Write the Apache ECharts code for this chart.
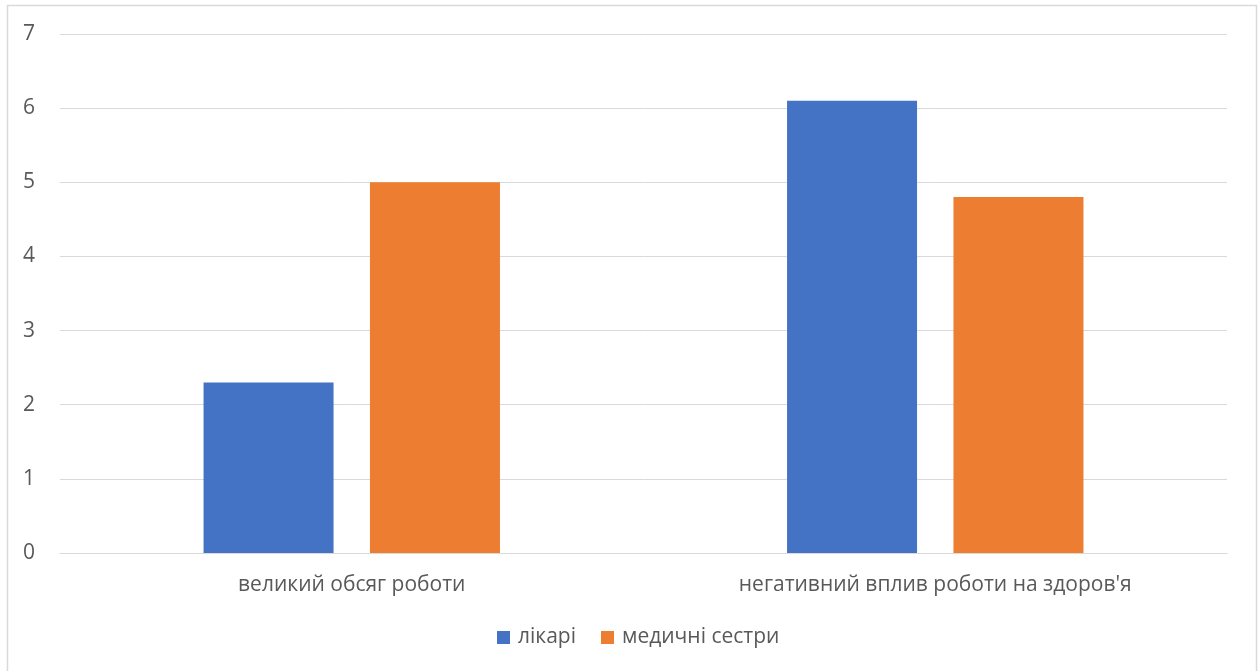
<!DOCTYPE html>
<html>
<head>
<meta charset="utf-8">
<style>
  html, body { margin: 0; padding: 0; background: #fff; }
  #chart { width: 1260px; height: 671px; }
</style>
<script src="https://cdn.jsdelivr.net/npm/echarts@6/dist/echarts.min.js"></script>
</head>
<body>
<div id="chart"></div>
<script>
// Categories and values
const categories = ['великий обсяг роботи', "негативний вплив роботи на здоров'я"];
const doctors = [2.3, 6.1];
const nurses = [5.0, 4.8];
const yTicks = [0, 1, 2, 3, 4, 5, 6, 7];

const chart = echarts.init(document.getElementById('chart'), null, { renderer: 'canvas' });
const textColor = '#595959';
const font = '"Open Sans", "Noto Sans", sans-serif';

chart.setOption({
  animation: false,
  backgroundColor: '#ffffff',
  graphic: [{
    type: 'rect',
    shape: { x: 7.5, y: 5.5, width: 1249, height: 700 },
    style: { fill: 'none', stroke: '#d9d9d9', lineWidth: 1.5 },
    silent: true
  }],
  grid: { left: 60, right: 33, top: 34, bottom: 118, containLabel: false },
  legend: {
    bottom: 18,
    left: 492,
    itemWidth: 13,
    itemHeight: 13,
    itemGap: 25,
    icon: 'rect',
    textStyle: { color: textColor, fontSize: 21, fontFamily: font, padding: [0, 0, 0, 3] },
    data: ['лікарі', 'медичні сестри']
  },
  xAxis: {
    type: 'category',
    data: categories,
    axisLine: { show: true, lineStyle: { color: '#d9d9d9', width: 1 } },
    axisTick: { show: false },
    axisLabel: { color: textColor, fontSize: 21, fontFamily: font, margin: 22 }
  },
  yAxis: {
    type: 'value',
    min: yTicks[0],
    max: yTicks[yTicks.length - 1],
    interval: 1,
    axisLine: { show: false },
    axisTick: { show: false },
    splitLine: { lineStyle: { color: '#d9d9d9', width: 1 } },
    axisLabel: { color: textColor, fontSize: 21, fontFamily: font, margin: 25 }
  },
  series: [
    {
      name: 'лікарі',
      type: 'bar',
      data: doctors,
      barWidth: 130,
      barGap: '28%',
      itemStyle: { color: '#4472c4' }
    },
    {
      name: 'медичні сестри',
      type: 'bar',
      data: nurses,
      barWidth: 130,
      itemStyle: { color: '#ed7d31' }
    }
  ]
});
</script>
</body>
</html>
